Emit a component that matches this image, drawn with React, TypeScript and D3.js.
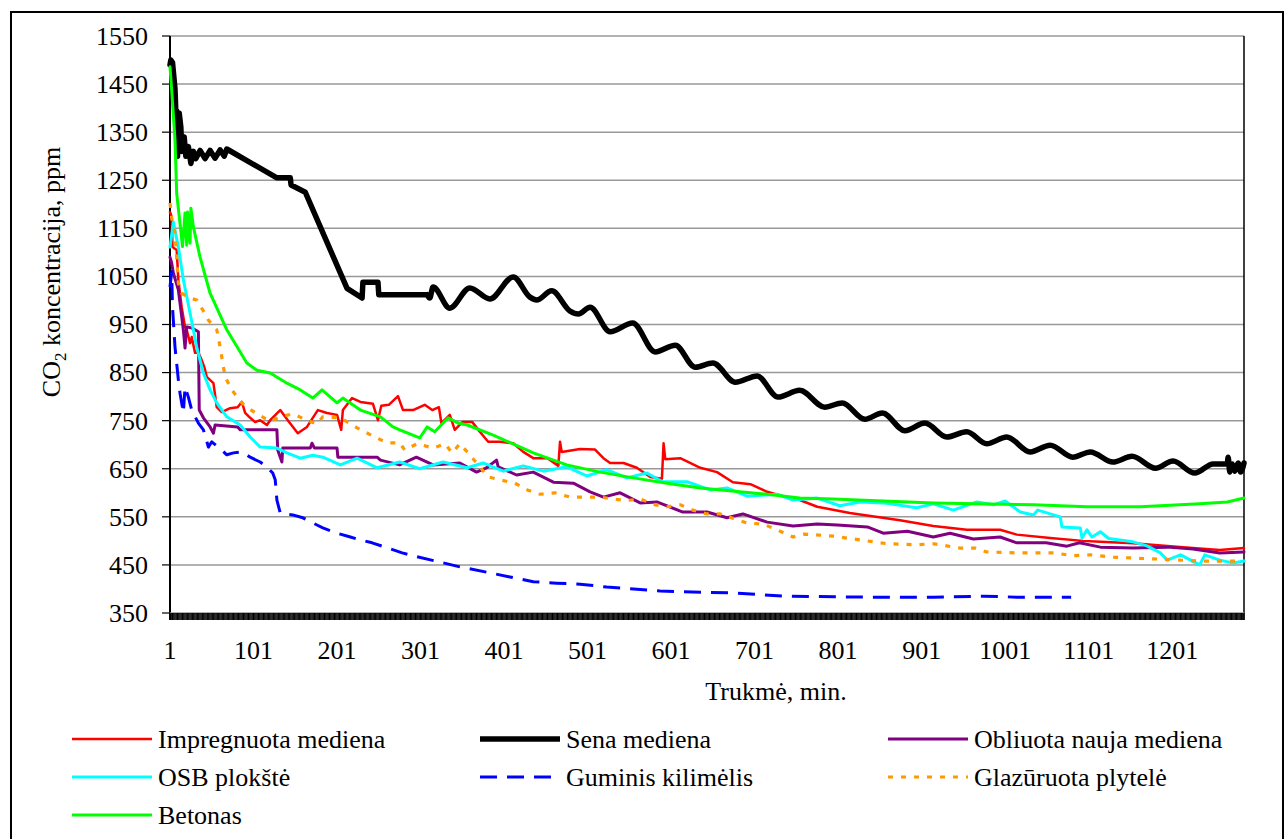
import React from "react";
import * as d3 from "d3";

// CO2 concentration vs time (minute, ppm)
const impregnuota: [number, number][] = [
  [1, 1184], [3, 1174], [4, 1111], [9, 1105], [11, 1043], [15, 986], [19, 945], [21, 939], [25, 911],
  [27, 924], [31, 891], [35, 891], [39, 876], [42, 862], [45, 841], [53, 828], [57, 778], [63, 768],
  [73, 776], [82, 778], [87, 789], [91, 766], [97, 756], [103, 747], [109, 751], [117, 741], [121, 751],
  [133, 772], [142, 751], [154, 724], [165, 737], [178, 772], [189, 766], [201, 762], [206, 731],
  [208, 772], [219, 797], [229, 789], [244, 785], [250, 751], [254, 781], [263, 783], [274, 801],
  [280, 772], [292, 772], [306, 783], [315, 772], [323, 778], [326, 745], [336, 762], [342, 731],
  [351, 747], [363, 747], [372, 727], [382, 706], [396, 706], [412, 703], [424, 685], [436, 672],
  [453, 672], [466, 656], [468, 706], [470, 685], [492, 691], [510, 690], [520, 672], [528, 662],
  [544, 662], [560, 652], [576, 633], [590, 629], [592, 703], [594, 670], [612, 672], [636, 652],
  [656, 643], [675, 622], [696, 618], [716, 602], [735, 593], [755, 585], [776, 571], [815, 558],
  [875, 543], [915, 531], [955, 523], [995, 523], [1015, 513], [1055, 506], [1094, 500], [1115, 498],
  [1154, 495], [1214, 487], [1258, 481], [1287, 485],
];

const senaMediena: [number, number][] = [
  [1, 1490], [2, 1500], [4, 1495], [7, 1440], [8, 1390], [9, 1395], [10, 1300], [12, 1390], [14, 1360],
  [15, 1310], [18, 1340], [20, 1300], [23, 1320], [26, 1285], [29, 1310], [32, 1295], [37, 1312],
  [43, 1295], [49, 1312], [55, 1296], [61, 1313], [66, 1300], [69, 1315], [129, 1255], [145, 1255],
  [146, 1240], [163, 1225], [213, 1025], [231, 1005], [232, 1038], [250, 1038], [251, 1012],
  [309, 1012], [312, 1005], [316, 1028], [336, 984], [360, 1026], [384, 1003], [412, 1049],
  [432, 1007], [440, 1001], [458, 1020], [480, 978], [490, 972], [504, 986], [528, 935], [555, 953],
  [582, 893], [606, 907], [630, 861], [651, 870], [678, 830], [704, 843], [729, 799], [755, 813],
  [785, 778], [806, 787], [833, 753], [854, 766], [881, 729], [905, 745], [931, 716], [955, 727],
  [979, 702], [1003, 716], [1031, 685], [1055, 699], [1082, 674], [1103, 685], [1130, 664],
  [1153, 676], [1181, 651], [1202, 666], [1228, 641], [1250, 660], [1267, 660], [1268, 674],
  [1270, 643], [1273, 660], [1276, 645], [1280, 662], [1283, 643], [1287, 662],
];

const obliuota: [number, number][] = [
  [1, 1090], [3, 1078], [5, 1057], [11, 1022], [17, 939], [19, 901], [21, 945], [27, 943], [35, 935],
  [36, 772], [41, 756], [49, 737], [53, 724], [55, 741], [82, 737], [85, 731], [129, 731], [130, 689],
  [135, 664], [136, 693], [169, 693], [171, 703], [174, 693], [201, 693], [202, 674], [249, 674],
  [253, 668], [276, 658], [296, 674], [316, 658], [348, 662], [368, 643], [380, 652], [392, 668],
  [394, 654], [416, 637], [436, 643], [460, 622], [484, 620], [504, 602], [520, 591], [540, 600],
  [564, 579], [584, 581], [615, 560], [644, 560], [668, 548], [687, 556], [716, 539], [747, 531],
  [776, 535], [800, 533], [836, 529], [855, 516], [884, 520], [915, 508], [935, 516], [963, 504],
  [995, 508], [1015, 496], [1050, 496], [1075, 489], [1090, 496], [1115, 487], [1154, 485],
  [1195, 487], [1226, 483], [1258, 475], [1287, 477],
];

const osbPlokste: [number, number][] = [
  [1, 1111], [5, 1163], [11, 1111], [17, 1043], [25, 974], [33, 903], [41, 849], [49, 814], [57, 787],
  [69, 758], [85, 741], [97, 716], [109, 695], [129, 693], [141, 683], [157, 672], [172, 678],
  [184, 674], [205, 658], [225, 672], [249, 652], [276, 664], [300, 650], [328, 664], [357, 652],
  [376, 662], [400, 645], [424, 656], [448, 645], [476, 654], [500, 635], [524, 648], [548, 631],
  [572, 641], [591, 623], [620, 623], [648, 606], [668, 610], [692, 593], [728, 597], [747, 585],
  [776, 589], [803, 573], [827, 581], [855, 579], [895, 569], [915, 577], [939, 564], [967, 581],
  [987, 575], [1001, 583], [1019, 560], [1035, 554], [1040, 564], [1067, 550], [1069, 529],
  [1091, 527], [1093, 506], [1099, 523], [1105, 508], [1115, 519], [1125, 505], [1154, 498],
  [1170, 490], [1187, 475], [1195, 460], [1211, 471], [1234, 450], [1240, 471], [1258, 460],
  [1274, 454], [1287, 458],
];

const guminis: [number, number][] = [
  [1, 1028], [3, 1060], [4, 986], [7, 903], [11, 835], [13, 807], [17, 766], [19, 820], [23, 799],
  [27, 772], [35, 745], [41, 731], [47, 695], [51, 706], [63, 689], [69, 679], [77, 683], [88, 685],
  [97, 674], [109, 664], [117, 654], [124, 641], [127, 627], [129, 585], [133, 558], [148, 554],
  [160, 548], [177, 533], [184, 527], [201, 516], [217, 508], [229, 502], [243, 496], [279, 475],
  [297, 467], [324, 456], [348, 446], [380, 435], [408, 425], [436, 415], [464, 412], [492, 410],
  [524, 404], [556, 400], [588, 396], [615, 394], [675, 392], [735, 385], [836, 383], [915, 383],
  [975, 385], [1015, 383], [1080, 383],
];

const glazuruota: [number, number][] = [
  [1, 1203], [3, 1172], [7, 1140], [11, 1036], [15, 1015], [25, 1005], [33, 1001], [41, 978],
  [47, 959], [57, 939], [61, 903], [67, 841], [75, 814], [87, 787], [95, 776], [105, 764], [121, 749],
  [133, 758], [148, 764], [165, 751], [177, 743], [184, 758], [205, 756], [225, 735], [244, 718],
  [261, 704], [276, 704], [282, 689], [297, 702], [316, 693], [330, 702], [339, 683], [348, 702],
  [358, 683], [370, 658], [382, 633], [396, 627], [414, 620], [429, 606], [444, 597], [462, 600],
  [480, 591], [516, 591], [532, 587], [548, 584], [564, 587], [582, 575], [596, 571], [612, 575],
  [627, 564], [644, 556], [660, 556], [675, 547], [692, 537], [711, 535], [728, 523], [747, 508],
  [760, 514], [795, 510], [827, 502], [860, 494], [895, 492], [915, 494], [947, 485], [965, 485],
  [979, 477], [1015, 475], [1060, 475], [1082, 469], [1103, 471], [1130, 466], [1187, 462],
  [1234, 458], [1287, 458],
];

const betonas: [number, number][] = [
  [1, 1486], [3, 1438], [7, 1334], [9, 1223], [16, 1112], [19, 1182], [21, 1115], [22, 1184],
  [25, 1119], [26, 1192], [29, 1153], [37, 1090], [49, 1015], [69, 939], [93, 870], [105, 855],
  [121, 849], [141, 828], [157, 814], [172, 797], [183, 814], [201, 787], [208, 797],
  [229, 772], [253, 758], [268, 737], [276, 731], [300, 714], [309, 737], [318, 727], [334, 756],
  [346, 745], [357, 741], [388, 720], [436, 683], [476, 658], [516, 643], [556, 631], [596, 620],
  [636, 610], [696, 600], [716, 597], [755, 589], [795, 587], [915, 579], [1035, 575], [1099, 571],
  [1163, 571], [1234, 577], [1267, 581], [1287, 589],
];

const yTickValues = [350, 450, 550, 650, 750, 850, 950, 1050, 1150, 1250, 1350, 1450, 1550];
const xTickLabels = [1, 101, 201, 301, 401, 501, 601, 701, 801, 901, 1001, 1101, 1201];
const lastMinute = 1287;
// the old-wood curve turns into a smooth wave from here on
const waveStart = 309;

const series = [
  { name: "Impregnuota mediena", data: impregnuota, color: "#ff0000", width: 2.5, dash: "" },
  { name: "Sena mediena", data: senaMediena, color: "#000000", width: 5.5, dash: "" },
  { name: "Obliuota nauja mediena", data: obliuota, color: "#800080", width: 3, dash: "" },
  { name: "OSB plokštė", data: osbPlokste, color: "#00ffff", width: 3, dash: "" },
  { name: "Guminis kilimėlis", data: guminis, color: "#0000ff", width: 3, dash: "17,10" },
  { name: "Glazūruota plytelė", data: glazuruota, color: "#ff9900", width: 3.2, dash: "5,8" },
  { name: "Betonas", data: betonas, color: "#00ff00", width: 3, dash: "" },
];

const FONT = "'Liberation Serif', 'Times New Roman', serif";

export default function App() {
  const W = 1285, H = 839;
  const left = 170, right = 1244, top = 36, bottom = 613;

  const x = d3.scaleLinear().domain([1, lastMinute]).range([left, right]);
  const y = d3.scaleLinear().domain([350, 1550]).range([bottom, top]);

  const straight = d3.line<[number, number]>().x(d => x(d[0])).y(d => y(d[1]));
  const smooth = d3.line<[number, number]>().x(d => x(d[0])).y(d => y(d[1]))
    .curve(d3.curveMonotoneX);

  const pathFor = (s: typeof series[number]) => {
    if (s.data !== senaMediena) return straight(s.data) || "";
    const head = s.data.filter(d => d[0] <= waveStart);
    const tail = s.data.filter(d => d[0] >= waveStart);
    return (straight(head) || "") + (smooth(tail) || "");
  };

  // one tick per minute on the category axis
  const tickPath = d3.range(1, lastMinute + 1)
    .map(m => `M${x(m).toFixed(2)},${bottom}V${bottom + 7}`)
    .join("");

  const legendCols = [72, 480, 888];
  const legendRows = [739, 777, 815];

  return (
    <svg width={W} height={H} style={{ position: "absolute", left: 0, top: 0, background: "#fff" }}
      fontFamily={FONT}>
      <rect x={11} y={12} width={1272} height={840} fill="#fff" stroke="#000" strokeWidth={2} />

      {/* gridlines */}
      {yTickValues.filter(v => v > 350).map(v => (
        <line key={v} x1={left} x2={right} y1={y(v)} y2={y(v)} stroke="#999" strokeWidth={1.5} />
      ))}

      {/* axes */}
      <line x1={left} x2={left} y1={top} y2={bottom + 7} stroke="#000" strokeWidth={2} />
      <line x1={right} x2={right} y1={top} y2={bottom + 7} stroke="#000" strokeWidth={1.5} />
      {yTickValues.map(v => (
        <g key={v}>
          <line x1={left - 8} x2={left} y1={y(v)} y2={y(v)} stroke="#000" strokeWidth={1.2} />
          <text x={148} y={y(v)} dy="0.34em" textAnchor="end" fontSize={26}>{v}</text>
        </g>
      ))}

      <line x1={left} x2={right} y1={bottom} y2={bottom} stroke="#999" strokeWidth={1.5} />
      <path d={tickPath} stroke="#000" strokeWidth={1} fill="none" />
      {xTickLabels.map(m => (
        <text key={m} x={x(m)} y={659} textAnchor="middle" fontSize={26}>{m}</text>
      ))}

      {/* series */}
      {series.map(s => (
        <path key={s.name} d={pathFor(s)} fill="none" stroke={s.color}
          strokeWidth={s.width} strokeDasharray={s.dash || undefined}
          strokeLinejoin="round" strokeLinecap={s.dash ? "butt" : "round"} />
      ))}

      {/* axis titles */}
      <text x={776} y={700} textAnchor="middle" fontSize={26}>Trukmė, min.</text>
      <text transform="translate(60,272) rotate(-90)" textAnchor="middle" fontSize={26}>
        CO<tspan fontSize={17} dy={6}>2</tspan><tspan dy={-6}> koncentracija, ppm</tspan>
      </text>

      {/* legend */}
      {series.map((s, i) => {
        const lx = legendCols[i % 3];
        const ly = legendRows[Math.floor(i / 3)];
        return (
          <g key={s.name}>
            <line x1={lx} x2={lx + 80} y1={ly} y2={ly} stroke={s.color} strokeWidth={s.width}
              strokeDasharray={s.dash || undefined} />
            <text x={lx + 86} y={ly + 9} fontSize={26}>{s.name}</text>
          </g>
        );
      })}
    </svg>
  );
}
